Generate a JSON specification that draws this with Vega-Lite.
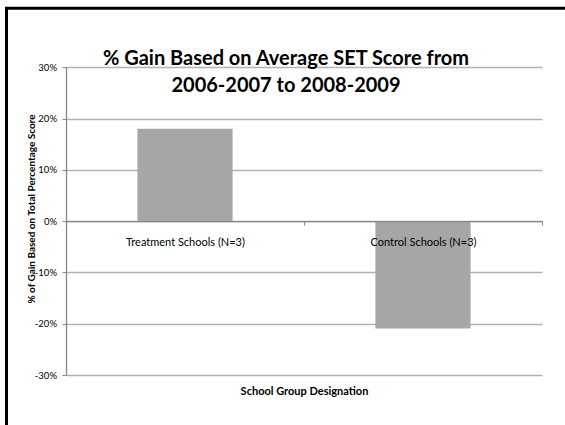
{
  "$schema": "https://vega.github.io/schema/vega-lite/v6.json",
  "width": 565,
  "height": 425,
  "autosize": {"type": "none"},
  "padding": 0,
  "background": "white",
  "title": {
    "text": ["% Gain Based on Average SET Score from", "2006-2007 to 2008-2009"],
    "font": "Lato",
    "fontSize": 20,
    "fontWeight": "bold",
    "color": "#000000",
    "anchor": "middle",
    "frame": "group",
    "orient": "top",
    "baseline": "alphabetic",
    "offset": -112.4,
    "lineHeight": 27.7,
    "dx": 3.5
  },
  "data": {
    "values": [
      {"group": "Treatment Schools (N=3)", "gain": 0.18},
      {"group": "Control Schools (N=3)", "gain": -0.209}
    ]
  },
  "resolve": {"scale": {"x": "independent", "y": "independent"}},
  "layer": [
    {
      "mark": {"type": "bar", "color": "#a6a6a6", "width": {"band": 0.4}},
      "encoding": {
        "x": {
          "field": "group",
          "type": "nominal",
          "sort": null,
          "scale": {"range": [66, 542], "paddingInner": 0, "paddingOuter": 0},
          "axis": {
            "title": "School Group Designation",
            "orient": "bottom",
            "offset": -203.9,
            "labelAngle": 0,
            "labelFont": "Lato",
            "labelFontSize": 11,
            "labelColor": "#000000",
            "labelPadding": 11,
            "tickSize": 4,
            "tickColor": "#868686",
            "tickBand": "extent",
            "domainColor": "#868686",
            "domainWidth": 1.3,
            "grid": false,
            "titleFont": "Lato",
            "titleFontSize": 11,
            "titleFontWeight": "bold",
            "titleColor": "#000000",
            "titleY": 164,
            "titleBaseline": "top",
            "zindex": 1
          }
        },
        "y": {
          "field": "gain",
          "type": "quantitative",
          "scale": {"domain": [-0.3, 0.3], "range": [375.1, 67.2], "nice": false, "zero": false},
          "axis": {
            "title": "% of Gain Based on  Total Percentage Score",
            "orient": "left",
            "offset": -66,
            "values": [-0.3, -0.2, -0.1, 0, 0.1, 0.2, 0.3],
            "labelExpr": "round(datum.value * 100) + '%'",
            "labelFont": "Lato",
            "labelFontSize": 9.5,
            "labelColor": "#000000",
            "labelPadding": 5.5,
            "tickSize": 4,
            "tickColor": "#868686",
            "domainColor": "#868686",
            "domainWidth": 1.3,
            "grid": true,
            "gridColor": "#b3b3b3",
            "gridWidth": 1.3,
            "titleFont": "Lato",
            "titleFontSize": 10,
            "titleFontWeight": "bold",
            "titleColor": "#000000",
            "titleX": -34.3,
            "titleY": 208.5,
            "titleBaseline": "middle",
            "zindex": 0
          }
        }
      }
    },
    {
      "data": {"values": [{}]},
      "layer": [
        {
          "mark": {"type": "rule", "color": "#000000", "strokeWidth": 3},
          "encoding": {
            "x": {"datum": 0, "type": "quantitative", "scale": {"domain": [0, 1], "range": [6.5, 565], "nice": false, "zero": false}, "axis": null},
            "y": {"datum": 0, "type": "quantitative", "scale": {"domain": [0, 1], "range": [425, 8.2], "nice": false, "zero": false}, "axis": null},
            "y2": {"datum": 1}
          }
        },
        {
          "mark": {"type": "rule", "color": "#000000", "strokeWidth": 3, "strokeCap": "square"},
          "encoding": {
            "x": {"datum": 0, "type": "quantitative", "scale": {"domain": [0, 1], "range": [6.5, 565], "nice": false, "zero": false}, "axis": null},
            "x2": {"datum": 1},
            "y": {"datum": 1, "type": "quantitative", "scale": {"domain": [0, 1], "range": [425, 8.2], "nice": false, "zero": false}, "axis": null}
          }
        }
      ]
    }
  ],
  "config": {"view": {"stroke": null}}
}
